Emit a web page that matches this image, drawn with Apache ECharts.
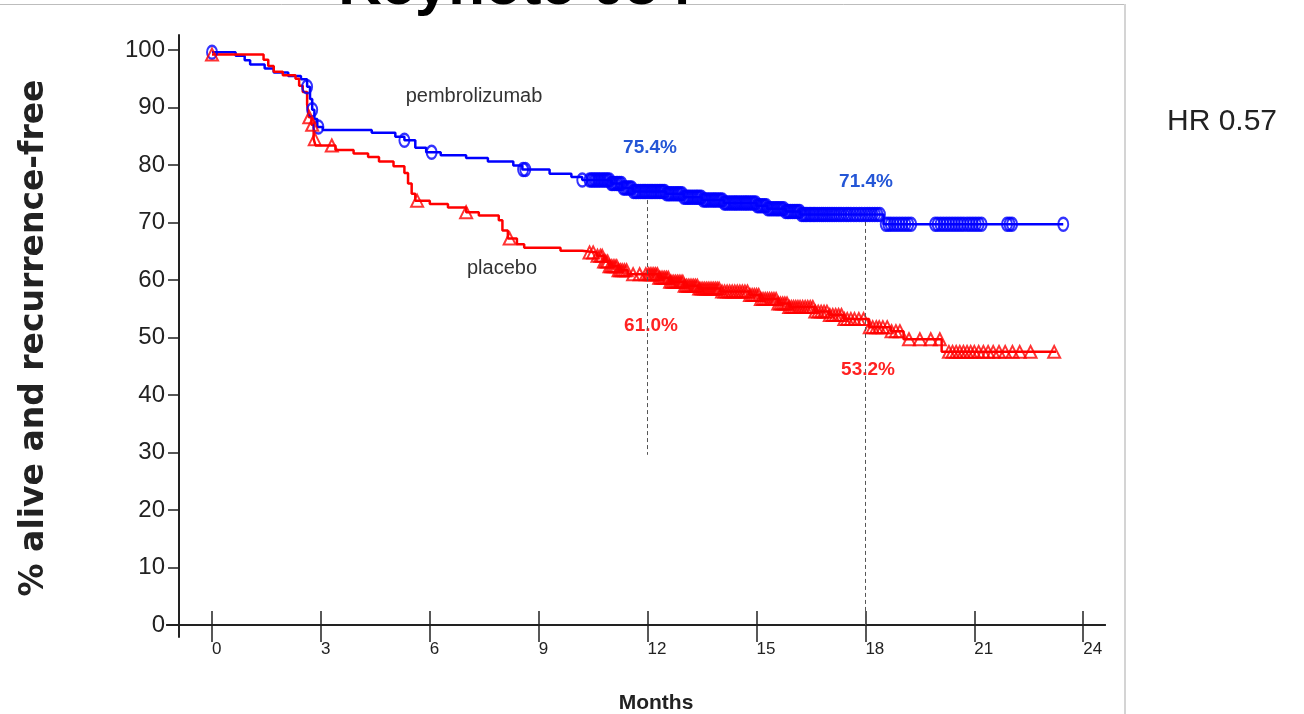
<!DOCTYPE html>
<html>
<head>
<meta charset="utf-8">
<script src="https://cdn.jsdelivr.net/npm/echarts@6/dist/echarts.min.js"></script>
<style>
  html, body { margin: 0; padding: 0; background: #fff; }
  #chart { width: 1304px; height: 714px; }
</style>
</head>
<body>
<div id="chart"></div>
<script>
// Kaplan-Meier estimates: [month, % alive and recurrence-free] at each step
const monthTicks = [0, 3, 6, 9, 12, 15, 18, 21, 24];
const pctTicks = [0, 10, 20, 30, 40, 50, 60, 70, 80, 90, 100];
const landmarkMonths = [12, 18];

const pembroSteps = [
  [0, 99.6], [0.65, 99.0], [0.9, 98.2], [1.05, 97.5], [1.45, 96.8], [1.7, 96.1],
  [2.1, 95.5], [2.45, 94.9], [2.62, 93.6], [2.7, 91.5], [2.76, 89.6], [2.82, 88.0],
  [2.9, 86.6], [3.05, 86.1], [4.4, 85.6], [5.05, 84.9], [5.3, 84.3], [5.6, 83.0],
  [5.9, 82.2], [6.3, 81.7], [7.0, 81.2], [7.6, 80.6], [8.3, 79.9], [8.55, 79.2],
  [9.3, 78.5], [9.9, 77.9], [10.2, 77.4], [11.0, 76.8], [11.3, 76.0], [11.6, 75.4],
  [12.5, 75.0], [13.0, 74.4], [13.5, 73.9], [14.1, 73.4], [15.0, 72.9], [15.3, 72.4],
  [15.8, 71.9], [16.2, 71.4], [18.5, 69.7], [23.45, 69.7]
];

const placeboSteps = [
  [0, 99.2], [1.42, 98.3], [1.55, 97.2], [1.7, 96.2], [1.95, 95.6], [2.3, 95.0],
  [2.4, 93.8], [2.5, 92.7], [2.62, 90.5], [2.67, 88.3], [2.74, 87.0], [2.8, 84.5],
  [2.85, 83.4], [3.4, 82.6], [3.9, 82.0], [4.3, 81.4], [4.6, 80.6], [5.0, 79.8],
  [5.3, 78.6], [5.4, 76.8], [5.5, 75.0], [5.6, 73.8], [6.0, 73.2], [6.5, 72.6],
  [7.0, 71.8], [7.35, 71.2], [7.9, 70.4], [8.0, 68.6], [8.15, 67.2], [8.4, 66.2],
  [8.6, 65.6], [9.6, 65.1], [10.2, 64.8], [10.6, 64.2], [10.8, 63.2], [10.95, 62.4],
  [11.2, 61.7], [11.45, 61.0], [12.3, 60.4], [12.6, 59.7], [13.0, 59.0], [13.4, 58.5],
  [14.0, 58.0], [14.8, 57.4], [15.1, 56.7], [15.6, 55.9], [15.9, 55.3], [16.6, 54.5],
  [17.0, 53.9], [17.4, 53.2], [18.1, 51.8], [18.7, 51.1], [19.05, 49.7], [20.1, 47.5],
  [23.25, 47.5]
];

// Censored patients (months)
const pembroCensor = [
  0.0, 2.62, 2.76, 2.93, 5.3, 6.05, 8.57, 8.63, 10.2,
  10.40, 10.45, 10.49, 10.54, 10.58, 10.63, 10.67, 10.72, 10.77, 10.81, 10.86, 10.90,
  10.95, 11.00, 11.04, 11.09, 11.14, 11.18, 11.23, 11.28, 11.33, 11.37, 11.42, 11.47,
  11.52, 11.56, 11.61, 11.66, 11.70, 11.75, 11.80, 11.85, 11.90, 11.94, 11.99, 12.04,
  12.09, 12.13, 12.18, 12.23, 12.28, 12.33, 12.37, 12.42, 12.47, 12.52, 12.57, 12.61,
  12.66, 12.71, 12.76, 12.81, 12.85, 12.90, 12.95, 13.00, 13.05, 13.10, 13.14, 13.19,
  13.24, 13.29, 13.34, 13.38, 13.43, 13.48, 13.53, 13.58, 13.62, 13.67, 13.72, 13.77,
  13.82, 13.86, 13.91, 13.96, 14.01, 14.06, 14.11, 14.15, 14.20, 14.25, 14.30, 14.35,
  14.40, 14.44, 14.49, 14.54, 14.59, 14.64, 14.69, 14.73, 14.78, 14.83, 14.88, 14.93,
  14.98, 15.02, 15.07, 15.12, 15.17, 15.22, 15.27, 15.31, 15.36, 15.41, 15.46, 15.51,
  15.56, 15.60, 15.65, 15.70, 15.75, 15.80, 15.85, 15.89, 15.94, 15.99, 16.04, 16.09,
  16.14, 16.19, 16.24, 16.29, 16.34, 16.39, 16.45, 16.50, 16.56, 16.61, 16.67, 16.73,
  16.79, 16.84, 16.90, 16.96, 17.02, 17.08, 17.14, 17.20, 17.27, 17.33, 17.40, 17.47,
  17.53, 17.60, 17.68, 17.75, 17.83, 17.90, 17.98, 18.05, 18.12, 18.19, 18.26, 18.33,
  18.40,
  18.56, 18.63, 18.70, 18.78, 18.86, 18.94, 19.02, 19.10, 19.18, 19.26,
  19.92, 19.99, 20.07, 20.15, 20.23, 20.31, 20.39, 20.47, 20.55, 20.63, 20.71, 20.80,
  20.88, 20.96, 21.04, 21.12, 21.2,
  21.90, 21.97, 22.04, 23.45
];

const placeboCensor = [
  0.0, 2.68, 2.76, 2.83, 3.3, 5.65, 7.0, 8.2,
  10.40, 10.50, 10.62, 10.70, 10.75, 10.80, 10.85, 10.90, 10.95, 11.00, 11.05, 11.10,
  11.15, 11.20, 11.25, 11.30, 11.36, 11.42, 11.60, 11.78, 11.95, 12.02, 12.07, 12.12,
  12.17, 12.22, 12.27, 12.32, 12.37, 12.42, 12.47, 12.52, 12.57, 12.62, 12.67, 12.72,
  12.77, 12.82, 12.87, 12.92, 12.97, 13.02, 13.07, 13.12, 13.17, 13.22, 13.27, 13.32,
  13.37, 13.42, 13.47, 13.52, 13.57, 13.62, 13.67, 13.72, 13.77, 13.82, 13.87, 13.92,
  13.97, 14.05, 14.12, 14.19, 14.26, 14.33, 14.40, 14.47, 14.54, 14.61, 14.68, 14.75,
  14.82, 14.88, 14.94, 15.00, 15.06, 15.12, 15.18, 15.24, 15.30, 15.36, 15.42, 15.48,
  15.54, 15.60, 15.66, 15.72, 15.78, 15.84, 15.90, 15.96, 16.02, 16.08, 16.14, 16.20,
  16.27, 16.34, 16.41, 16.48, 16.55, 16.62, 16.70, 16.78, 16.86, 16.94, 17.02, 17.10,
  17.18, 17.26, 17.34, 17.42, 17.50, 17.60, 17.70, 17.82, 17.95,
  18.12, 18.20, 18.30, 18.38, 18.48, 18.60, 18.72, 18.84, 18.95,
  19.2, 19.5, 19.8, 20.05,
  20.30, 20.40, 20.50, 20.60, 20.70, 20.80, 20.90, 21.00, 21.12, 21.25, 21.38, 21.52,
  21.68, 21.85, 22.05, 22.25, 22.55, 23.2
];

// Survival level of a step curve at month t
function levelAt(steps, t) {
  let v = steps[0][1];
  for (const [m, p] of steps) {
    if (m <= t + 1e-9) v = p; else break;
  }
  return v;
}

const BLUE = '#0000ff';
const RED = '#ff0000';
const INK = '#222';
const SANS = "'Liberation Sans', Arial, sans-serif";

const chart = echarts.init(document.getElementById('chart'), null, { renderer: 'canvas' });

const xRange = { min: -1.24, max: 24.6 };
const yRange = { min: -2.09, max: 102.61 };

const fmt = v => v.toFixed(1) + '%';

// x axis drawn twice on the zero line: one carries the inner tick halves,
// the other the outer tick halves and the month labels
const xAxisBase = {
  type: 'value', position: 'bottom', min: xRange.min, max: xRange.max, offset: -12,
  axisLine: { onZero: false, lineStyle: { color: INK, width: 2 } },
  splitLine: { show: false }
};

chart.setOption({
  backgroundColor: '#fff',
  animation: false,
  grid: { left: 167, right: 199, top: 35, bottom: 77 },
  xAxis: [
    Object.assign({}, xAxisBase, {
      axisTick: { show: true, inside: true, length: 14, customValues: monthTicks, lineStyle: { color: INK, width: 1.5 } },
      axisLabel: { show: false }
    }),
    Object.assign({}, xAxisBase, {
      axisTick: { show: true, inside: false, length: 17, customValues: monthTicks, lineStyle: { color: INK, width: 1.5 } },
      axisLabel: {
        customValues: monthTicks, align: 'left', margin: 16,
        fontFamily: SANS, fontSize: 17, color: INK
      }
    })
  ],
  yAxis: {
    type: 'value', min: yRange.min, max: yRange.max, offset: -12,
    axisLine: { show: true, onZero: false, lineStyle: { color: INK, width: 2 } },
    axisTick: { show: true, inside: false, length: 11, customValues: pctTicks, lineStyle: { color: INK, width: 1.5 } },
    axisLabel: { customValues: pctTicks, margin: 14, fontFamily: SANS, fontSize: 24, color: INK },
    splitLine: { show: false }
  },
  series: [
    {
      name: 'pembrolizumab', type: 'line', step: 'end', data: pembroSteps,
      showSymbol: false, symbol: 'none', lineStyle: { color: BLUE, width: 2.5 }, z: 3,
      markLine: {
        silent: true, symbol: 'none', label: { show: false },
        lineStyle: { color: '#555', width: 1, type: [4, 3] },
        data: [
          [{ coord: [landmarkMonths[0], 73.9] }, { coord: [landmarkMonths[0], 29.6] }],
          [{ coord: [landmarkMonths[1], 70.1] }, { coord: [landmarkMonths[1], -2.0] }]
        ]
      }
    },
    {
      name: 'placebo', type: 'line', step: 'end', data: placeboSteps,
      showSymbol: false, symbol: 'none', lineStyle: { color: RED, width: 2.5 }, z: 3
    },
    {
      name: 'pembrolizumab censored', type: 'scatter', z: 4,
      data: pembroCensor.map(t => [t, levelAt(pembroSteps, t)]),
      symbol: 'circle', symbolSize: [10, 13],
      itemStyle: { color: 'rgba(255,255,255,0)', borderColor: BLUE, borderWidth: 2.2 }
    },
    {
      name: 'placebo censored', type: 'scatter', z: 4,
      data: placeboCensor.map(t => [t, levelAt(placeboSteps, t)]),
      symbol: 'triangle', symbolSize: [12, 12],
      itemStyle: { color: 'rgba(255,255,255,0)', borderColor: RED, borderWidth: 2 }
    }
  ],
  graphic: [
    // slide frame
    { type: 'polyline', shape: { points: [[0, 4.5], [1125, 4.5]] }, style: { stroke: '#bdbdbd', lineWidth: 1 }, silent: true },
    { type: 'polyline', shape: { points: [[1125, 4], [1125, 714]] }, style: { stroke: '#d4d4d4', lineWidth: 2 }, silent: true },
    // slide title
    { type: 'text', x: 515, y: -13, style: { text: 'Keynote 054', font: "bold 60px " + SANS, fill: '#000', align: 'center', verticalAlign: 'middle' } },
    // axis titles
    { type: 'text', x: 34, y: 338, rotation: Math.PI / 2, style: { text: '% alive and recurrence-free', font: "bold 33px 'DejaVu Sans', sans-serif", fill: INK, align: 'center', verticalAlign: 'middle' } },
    { type: 'text', x: 656, y: 703, style: { text: 'Months', font: "bold 21px " + SANS, fill: INK, align: 'center', verticalAlign: 'middle' } },
    // arm names
    { type: 'text', x: 474, y: 96, style: { text: 'pembrolizumab', font: "20px " + SANS, fill: '#333', align: 'center', verticalAlign: 'middle' } },
    { type: 'text', x: 502, y: 268, style: { text: 'placebo', font: "20px " + SANS, fill: '#333', align: 'center', verticalAlign: 'middle' } },
    // landmark estimates
    { type: 'text', x: 650, y: 148, style: { text: fmt(levelAt(pembroSteps, landmarkMonths[0])), font: "bold 19px " + SANS, fill: '#2456d6', align: 'center', verticalAlign: 'middle' } },
    { type: 'text', x: 866, y: 182, style: { text: fmt(levelAt(pembroSteps, landmarkMonths[1])), font: "bold 19px " + SANS, fill: '#2456d6', align: 'center', verticalAlign: 'middle' } },
    { type: 'text', x: 651, y: 326, style: { text: fmt(levelAt(placeboSteps, landmarkMonths[0])), font: "bold 19px " + SANS, fill: '#ff2222', align: 'center', verticalAlign: 'middle' } },
    { type: 'text', x: 868, y: 370, style: { text: fmt(levelAt(placeboSteps, landmarkMonths[1])), font: "bold 19px " + SANS, fill: '#ff2222', align: 'center', verticalAlign: 'middle' } },
    // hazard ratio
    { type: 'text', x: 1167, y: 122, style: { text: 'HR 0.57', font: "30px " + SANS, fill: INK, align: 'left', verticalAlign: 'middle' } }
  ]
});
</script>
</body>
</html>
